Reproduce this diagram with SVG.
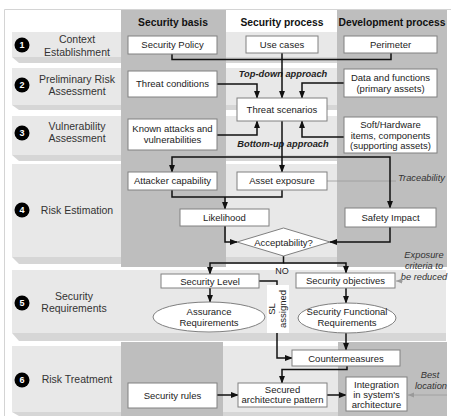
<svg xmlns="http://www.w3.org/2000/svg" width="451" height="416" viewBox="0 0 451 416">
<defs>
<style>
.band{fill:#e8e8e8}
.bevel{fill:#d6d6d6}
.dark{fill:#bebebe}
.box{fill:#fff;stroke:#808080;stroke-width:1}
.t{font-family:"Liberation Sans",Arial,sans-serif;font-size:9.5px;fill:#222;text-anchor:middle}
.lbl{font-family:"Liberation Sans",Arial,sans-serif;font-size:10.5px;fill:#333;text-anchor:middle}
.hdr{font-family:"Liberation Sans",Arial,sans-serif;font-size:10.3px;font-weight:bold;fill:#111;text-anchor:middle}
.num{font-family:"Liberation Sans",Arial,sans-serif;font-size:9px;font-weight:bold;fill:#fff;text-anchor:middle}
.ann{font-family:"Liberation Sans",Arial,sans-serif;font-size:9.3px;font-style:italic;fill:#333;text-anchor:middle}
.annb{font-family:"Liberation Sans",Arial,sans-serif;font-size:9.3px;font-style:italic;font-weight:bold;fill:#222;text-anchor:middle}
.conn{fill:none;stroke:#111;stroke-width:1.5}
.arr{marker-end:url(#ah)}
.gconn{fill:none;stroke:#9a9a9a;stroke-width:0.8}
</style>
<marker id="ah" viewBox="0 0 10 10" refX="9" refY="5" markerWidth="8" markerHeight="8" orient="auto" markerUnits="userSpaceOnUse">
<path d="M0,1.25 L10,5 L0,8.75 z" fill="#111"/>
</marker>
<marker id="gh" viewBox="0 0 10 10" refX="10" refY="5" markerWidth="6" markerHeight="6" orient="auto" markerUnits="userSpaceOnUse">
<path d="M0,1 L10,5 L0,9 z" fill="#9a9a9a"/>
</marker>
</defs>
<rect width="451" height="416" fill="#fff"/>
<path d="M4.5,416 V9.5 H451" fill="none" stroke="#d4d4d4" stroke-width="1"/>

<g id="background">
<rect class="band" x="12" y="32" width="434" height="25"/>
<polygon class="bevel" points="12,57 446,57 446,63 19,63"/>
<rect class="band" x="12" y="68" width="434" height="37"/>
<polygon class="bevel" points="12,105 446,105 446,110 19,110"/>
<rect class="band" x="12" y="116" width="434" height="39"/>
<polygon class="bevel" points="12,155 446,155 446,161 19,161"/>
<rect class="band" x="12" y="164" width="434" height="93"/>
<polygon class="bevel" points="12,257 446,257 446,264 19,264"/>
<rect class="band" x="12" y="270" width="434" height="63"/>
<polygon class="bevel" points="12,333 446,333 446,341 19,341"/>
<rect class="band" x="12" y="346" width="434" height="66"/>
<polygon class="bevel" points="12,412 446,412 446,416 19,416"/>
<rect class="dark" x="121" y="10" width="105" height="257"/>
<rect class="dark" x="337" y="10" width="110" height="257"/>
<rect class="dark" x="121" y="342" width="102" height="74"/>
<rect class="dark" x="338" y="342" width="109" height="74"/>
</g>

<g id="headers">
<text class="hdr" x="173" y="26">Security basis</text>
<text class="hdr" x="282" y="26">Security process</text>
<text class="hdr" x="392" y="26">Development process</text>
</g>

<g id="step1"><circle cx="22" cy="45" r="7.5" fill="#000"/><text class="num" x="22" y="48.2">1</text><text class="lbl" x="77" y="43">Context</text><text class="lbl" x="77" y="56">Establishment</text></g>
<g id="step2"><circle cx="22" cy="85" r="7.5" fill="#000"/><text class="num" x="22" y="88.2">2</text><text class="lbl" x="77" y="82.5">Preliminary Risk</text><text class="lbl" x="77" y="95">Assessment</text></g>
<g id="step3"><circle cx="22" cy="133" r="7.5" fill="#000"/><text class="num" x="22" y="136.2">3</text><text class="lbl" x="77" y="130">Vulnerability</text><text class="lbl" x="77" y="142">Assessment</text></g>
<g id="step4"><circle cx="22" cy="210" r="7.5" fill="#000"/><text class="num" x="22" y="213.2">4</text><text class="lbl" x="77" y="214">Risk Estimation</text></g>
<g id="step5"><circle cx="22" cy="303" r="7.5" fill="#000"/><text class="num" x="22" y="306.2">5</text><text class="lbl" x="74" y="300">Security</text><text class="lbl" x="74" y="312">Requirements</text></g>
<g id="step6"><circle cx="22" cy="380" r="7.5" fill="#000"/><text class="num" x="22" y="383.2">6</text><text class="lbl" x="77" y="383">Risk Treatment</text></g>

<g id="annotations">
<text class="annb" x="283" y="77">Top-down approach</text>
<text class="annb" x="283" y="147">Bottom-up approach</text>
<text class="ann" x="421.5" y="181">Traceability</text>
<text class="ann" x="424" y="258">Exposure</text>
<text class="ann" x="424" y="269">criteria to</text>
<text class="ann" x="424" y="280">be reduced</text>
<text class="ann" x="430" y="378">Best</text>
<text class="ann" x="431" y="389">location</text>
<text class="t" x="282" y="274" style="font-size:9px">NO</text>
</g>

<g id="connectors">
<path class="gconn" d="M327,181 H396"/>
<path class="gconn" d="M403,281 H396" marker-end="url(#gh)"/>
<path class="gconn" d="M447,395 H408" marker-end="url(#gh)"/>
<path class="conn" d="M172,54 V59.5 H391 V53"/>
<path class="conn arr" d="M282,53 V98"/>
<path class="conn arr" d="M217,84 H257 V98"/>
<path class="conn arr" d="M344,83 H302 V98"/>
<path class="conn arr" d="M217,135 H257 V121"/>
<path class="conn arr" d="M344,137 H302 V121"/>
<path class="conn arr" d="M282,121 V172"/>
<path class="conn arr" d="M282,157 H172 V172"/>
<path class="conn arr" d="M282,157 H390 V208"/>
<path class="conn" d="M172,190 V197 H282 V190"/>
<path class="conn arr" d="M225,197 V209"/>
<path class="conn arr" d="M225,226 V242 H237"/>
<path class="conn arr" d="M390,227 V242 H330"/>
<path class="conn arr" d="M283.5,256 V263 H210 V274"/>
<path class="conn arr" d="M283.5,263 H346 V273"/>
<path class="conn arr" d="M210,288 V302"/>
<path class="conn arr" d="M346,288 V303"/>
<path class="conn arr" d="M259,281 H277 V358 H292"/>
<path class="conn arr" d="M346,333 V350"/>
<path class="conn arr" d="M347,366 V369.5 H282 V383"/>
<path class="conn arr" d="M217,395 H238"/>
<path class="conn arr" d="M327,395 H346"/>
</g>

<g id="security-policy"><rect class="box" x="128" y="36" width="89" height="18"/><text class="t" x="172.5" y="48.3">Security Policy</text></g>
<g id="threat-conditions"><rect class="box" x="128" y="71" width="89" height="26"/><text class="t" x="172.5" y="87.3">Threat conditions</text></g>
<g id="known-attacks"><rect class="box" x="128" y="119" width="89" height="31"/><text class="t" x="172.5" y="131.5">Known attacks and</text><text class="t" x="172.5" y="142.5">vulnerabilities</text></g>
<g id="attacker-capability"><rect class="box" x="128" y="172" width="89" height="18"/><text class="t" x="172.5" y="184.3">Attacker capability</text></g>
<g id="likelihood"><rect class="box" x="180" y="209" width="89" height="17"/><text class="t" x="224.5" y="220.8">Likelihood</text></g>
<g id="security-level"><rect class="box" x="161" y="274" width="98" height="14"/><text class="t" x="210" y="284.5">Security Level</text></g>
<g id="assurance-requirements"><ellipse class="box" cx="209" cy="317" rx="56" ry="15"/><text class="t" x="209" y="315">Assurance</text><text class="t" x="209" y="325.5">Requirements</text></g>
<g id="security-rules"><rect class="box" x="128" y="383" width="89" height="25"/><text class="t" x="172.5" y="398.8">Security rules</text></g>

<g id="use-cases"><rect class="box" x="246" y="36" width="72" height="17"/><text class="t" x="282" y="47.8">Use cases</text></g>
<g id="threat-scenarios"><rect class="box" x="237" y="98" width="90" height="23"/><text class="t" x="282" y="112.8">Threat scenarios</text></g>
<g id="asset-exposure"><rect class="box" x="237" y="172" width="90" height="18"/><text class="t" x="282" y="184.3">Asset exposure</text></g>
<g id="acceptability"><polygon class="box" points="237,242 283.5,228 330,242 283.5,256"/><text class="t" x="283.5" y="245.5">Acceptability?</text></g>
<g id="security-objectives"><rect class="box" x="296" y="273" width="99" height="15"/><text class="t" x="345.5" y="284">Security objectives</text></g>
<g id="security-functional-requirements"><ellipse class="box" cx="347" cy="318" rx="49" ry="15"/><text class="t" x="347" y="315">Security Functional</text><text class="t" x="347" y="325.5">Requirements</text></g>
<g id="sl-assigned"><rect x="267" y="285" width="22" height="48" fill="#fff"/><g transform="translate(278,309) rotate(-90)"><text class="t" x="0" y="-3">SL</text><text class="t" x="0" y="8">assigned</text></g></g>
<g id="countermeasures"><rect class="box" x="292" y="350" width="108" height="16"/><text class="t" x="346" y="361.5">Countermeasures</text></g>
<g id="secured-architecture-pattern"><rect class="box" x="238" y="383" width="89" height="24"/><text class="t" x="282.5" y="393">Secured</text><text class="t" x="282.5" y="403">architecture pattern</text></g>
<g id="integration"><rect class="box" x="346" y="377" width="61" height="34"/><text class="t" x="376.5" y="387.5">Integration</text><text class="t" x="376.5" y="397.8">in system's</text><text class="t" x="376.5" y="408">architecture</text></g>

<g id="perimeter"><rect class="box" x="344" y="36" width="93" height="17"/><text class="t" x="390.5" y="47.8">Perimeter</text></g>
<g id="data-functions"><rect class="box" x="344" y="69" width="93" height="28"/><text class="t" x="390.5" y="80.5">Data and functions</text><text class="t" x="390.5" y="91.5">(primary assets)</text></g>
<g id="soft-hardware"><rect class="box" x="344" y="117" width="93" height="36"/><text class="t" x="390.5" y="128">Soft/Hardware</text><text class="t" x="390.5" y="138.5">items, components</text><text class="t" x="390.5" y="149">(supporting assets)</text></g>
<g id="safety-impact"><rect class="box" x="345" y="208" width="91" height="19"/><text class="t" x="390.5" y="220.8">Safety Impact</text></g>
</svg>
